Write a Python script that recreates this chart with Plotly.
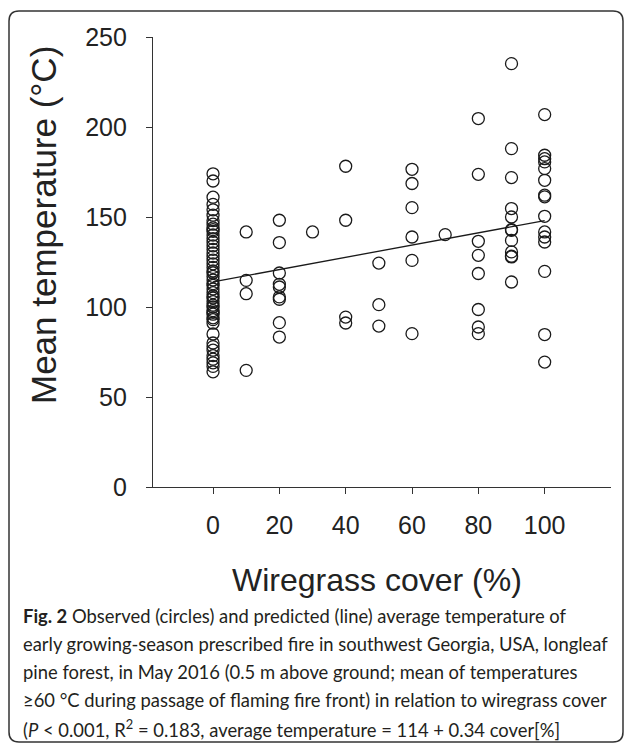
import plotly.graph_objects as go

# ---------------- data ----------------
cover_0 = [174, 170, 161, 157, 154, 151, 148, 146, 144, 143, 142, 140, 138, 136, 134,
           132, 130, 128, 126, 124, 122, 120, 119, 117, 115, 113, 112, 110, 108, 106,
           105, 103, 101, 100, 98, 97, 96, 94, 93, 91, 85, 80, 78, 76, 73, 71, 69, 67, 64]
cover_10 = [141.7, 114.8, 107.4, 64.8]
cover_20 = [148.2, 135.8, 118.9, 112.6, 111.1, 105.6, 104.3, 91.3, 83.3]
cover_30 = [141.7]
cover_40 = [178.2, 148.2, 94.4, 91.1]
cover_50 = [124.4, 101.3, 89.4]
cover_60 = [176.5, 168.6, 155.2, 138.9, 125.9, 85.2]
cover_70 = [140.2]
cover_80 = [204.7, 173.7, 136.5, 128.7, 118.6, 98.6, 88.9, 85.2]
cover_90 = [235.2, 188.0, 171.9, 154.7, 150.0, 143.0, 142.6, 137.0, 130.6, 128.2, 127.8, 113.9]
cover_100 = [206.9, 184.3, 182.4, 180.6, 176.9, 170.4, 162.1, 161.2, 150.4, 141.7,
             138.9, 136.1, 119.8, 84.7, 69.4]

cover_levels = [0, 10, 20, 30, 40, 50, 60, 70, 80, 90, 100]
temps_by_level = [cover_0, cover_10, cover_20, cover_30, cover_40, cover_50,
                  cover_60, cover_70, cover_80, cover_90, cover_100]

# predicted line (average temperature = 114 + 0.34 cover[%])
line_x = [0, 100]
line_y = [114, 148]

x_ticks = [0, 20, 40, 60, 80, 100]
y_ticks = [0, 50, 100, 150, 200, 250]

x_title = "Wiregrass cover (%)"
y_title = "Mean temperature (°C)"
caption_lines = [
    "<b>Fig. 2</b> Observed (circles) and predicted (line) average temperature of",
    "early growing-season prescribed fire in southwest Georgia, USA, longleaf",
    "pine forest, in May 2016 (0.5 m above ground; mean of temperatures",
    "≥60 °C during passage of flaming fire front) in relation to wiregrass cover",
    "(<i>P</i> < 0.001, R<sup>2</sup> = 0.183, average temperature = 114 + 0.34 cover[%]",
]

# ---------------- figure ----------------
W, H = 630, 746
L, R, T, B = 153, 19, 37, 259
PW, PH = W - L - R, H - T - B


def px2x(px):
    return (px - L) / PW


def py2y(py):
    return (H - B - py) / PH


xs, ys = [], []
for lvl, vals in zip(cover_levels, temps_by_level):
    xs += [lvl] * len(vals)
    ys += vals

fig = go.Figure()
fig.add_trace(go.Scatter(
    x=xs, y=ys, mode="markers",
    marker=dict(symbol="circle", size=12, color="rgba(0,0,0,0)",
                line=dict(color="#1a1a1a", width=1.3)),
    showlegend=False, cliponaxis=False))
fig.add_trace(go.Scatter(
    x=line_x, y=line_y, mode="lines",
    line=dict(color="#1a1a1a", width=1.3), showlegend=False))

axis_font = dict(family="Liberation Sans, Arial, sans-serif", size=25, color="#222222")
fig.update_xaxes(range=[-18.1, 120], tickvals=x_ticks, ticks="outside", ticklen=6,
                 tickwidth=1.2, tickcolor="#333333", showline=True, linecolor="#333333",
                 linewidth=1.3, showgrid=False, zeroline=False, tickfont=axis_font,
                 ticklabelstandoff=10)
fig.update_yaxes(range=[0, 250], tickvals=y_ticks, ticks="outside", ticklen=6,
                 tickwidth=1.2, tickcolor="#333333", showline=True, linecolor="#333333",
                 linewidth=1.3, showgrid=False, zeroline=False, tickfont=axis_font,
                 ticklabelstandoff=14)

ann = []
ann.append(dict(text=y_title, x=px2x(43), y=py2y(225), xref="paper", yref="paper",
                showarrow=False, textangle=-90, xanchor="center", yanchor="middle",
                font=dict(family="Liberation Sans, Arial, sans-serif", size=35, color="#222222")))
ann.append(dict(text=x_title, x=px2x(377), y=py2y(580), xref="paper", yref="paper",
                showarrow=False, xanchor="center", yanchor="middle",
                font=dict(family="Liberation Sans, Arial, sans-serif", size=32, color="#222222")))
cap_y = [616, 644, 672, 700, 728]
for txt, cy in zip(caption_lines, cap_y):
    ann.append(dict(text=txt, x=px2x(21), y=py2y(cy), xref="paper", yref="paper",
                    showarrow=False, xanchor="left", yanchor="middle", align="left",
                    font=dict(family="Lato, Open Sans, sans-serif", size=18.4, color="#231f20")))

# rounded frame around the whole figure
fx0, fx1, fy0, fy1, rr = 9, 623, 11, 742, 10
pts = lambda px, py: f"{px2x(px):.5f},{py2y(py):.5f}"
path = (f"M {pts(fx0 + rr, fy0)} L {pts(fx1 - rr, fy0)} Q {pts(fx1, fy0)} {pts(fx1, fy0 + rr)} "
        f"L {pts(fx1, fy1 - rr)} Q {pts(fx1, fy1)} {pts(fx1 - rr, fy1)} "
        f"L {pts(fx0 + rr, fy1)} Q {pts(fx0, fy1)} {pts(fx0, fy1 - rr)} "
        f"L {pts(fx0, fy0 + rr)} Q {pts(fx0, fy0)} {pts(fx0 + rr, fy0)} Z")

fig.update_layout(
    width=W, height=H, margin=dict(l=L, r=R, t=T, b=B),
    paper_bgcolor="white", plot_bgcolor="white",
    annotations=ann,
    shapes=[dict(type="path", path=path, xref="paper", yref="paper",
                 line=dict(color="#333333", width=1.5), layer="below")],
)

fig.write_html("out.html")
